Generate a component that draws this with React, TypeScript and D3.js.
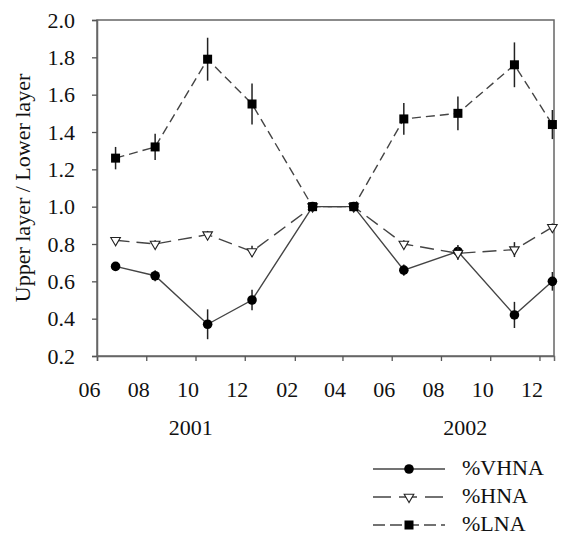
import React, { useEffect, useRef } from 'react'
import { select, scaleLinear, scaleTime, axisBottom, axisLeft, line, symbol, symbolTriangle } from 'd3'

// sampling dates
const dates = ['2001-06-24', '2001-08-12', '2001-10-16', '2001-12-10', '2002-02-23', '2002-04-15', '2002-06-16', '2002-08-22', '2002-10-31', '2002-12-17']

const vhna = [0.68, 0.63, 0.37, 0.50, 1.0, 1.0, 0.66, 0.76, 0.42, 0.60]
const vhnaErr = [0.02, 0.03, 0.08, 0.055, 0, 0, 0.03, 0.035, 0.07, 0.05]

const hna = [0.82, 0.80, 0.85, 0.76, 1.0, 1.0, 0.80, 0.75, 0.77, 0.89]
const hnaErr = [0.015, 0.02, 0.02, 0.03, 0, 0, 0.02, 0.035, 0.04, 0.02]

const lna = [1.26, 1.32, 1.79, 1.55, 1.0, 1.0, 1.47, 1.50, 1.76, 1.44]
const lnaErr = [0.06, 0.07, 0.115, 0.11, 0, 0, 0.085, 0.09, 0.12, 0.078]

const monthTicks = ['2001-06-01', '2001-08-01', '2001-10-01', '2001-12-01', '2002-02-01', '2002-04-01', '2002-06-01', '2002-08-01', '2002-10-01', '2002-12-01']
const monthLabels = ['06', '08', '10', '12', '02', '04', '06', '08', '10', '12']
const yearLabels = [{ label: '2001', date: '2001-09-25' }, { label: '2002', date: '2002-08-31' }]
const yTicks = [0.2, 0.4, 0.6, 0.8, 1.0, 1.2, 1.4, 1.6, 1.8, 2.0]

const FONT = 'Liberation Serif'

function App() {
  const ref = useRef(null)

  useEffect(() => {
    const left = 97, right = 554, top = 20, bottom = 356

    const svg = select(ref.current)
    svg.selectAll('*').remove()

    const x = scaleTime()
      .domain([new Date(2001, 5, 1), new Date(2002, 11, 19)])
      .range([left, right])
    const y = scaleLinear().domain([0.2, 2.0]).range([bottom, top])
    const parse = (s) => { const p = s.split('-').map(Number); return new Date(p[0], p[1] - 1, p[2]) }
    const xs = dates.map(parse)

    // frame
    svg.append('rect')
      .attr('x', left).attr('y', top)
      .attr('width', right - left).attr('height', bottom - top)
      .attr('fill', 'none').attr('stroke', '#666').attr('stroke-width', 1.5)

    const xAxis = svg.append('g')
      .attr('transform', `translate(0, ${bottom})`)
      .call(axisBottom(x).tickValues(monthTicks.map(parse)).tickSize(5)
        .tickFormat((d, i) => monthLabels[i]))
    const yAxis = svg.append('g')
      .attr('transform', `translate(${left}, 0)`)
      .call(axisLeft(y).tickValues(yTicks).tickSize(5).tickPadding(17).tickFormat(d => d.toFixed(1)))

    for (const ax of [xAxis, yAxis]) {
      ax.attr('font-family', FONT).attr('font-size', 22)
      ax.select('.domain').attr('stroke', '#666').attr('stroke-width', 1.5)
      ax.selectAll('.tick line').attr('stroke', '#555').attr('stroke-width', 1.3)
      ax.selectAll('.tick text').attr('fill', '#111')
    }
    // month labels sit a little left of their ticks in the original
    xAxis.selectAll('.tick text').attr('y', 41).attr('dy', null).attr('dx', -8)

    svg.selectAll('.year')
      .data(yearLabels)
      .enter().append('text')
      .attr('x', d => x(parse(d.date)))
      .attr('y', 435)
      .attr('text-anchor', 'middle')
      .attr('fill', '#111')
      .text(d => d.label)

    svg.append('text')
      .attr('transform', 'translate(30, 188) rotate(-90)')
      .attr('text-anchor', 'middle')
      .attr('fill', '#111')
      .text('Upper layer / Lower layer')

    const series = [
      { vals: vhna, err: vhnaErr, dash: null, marker: 'circle', name: '%VHNA' },
      { vals: hna, err: hnaErr, dash: '14,7', marker: 'triangle', name: '%HNA' },
      { vals: lna, err: lnaErr, dash: '9,5', marker: 'square', name: '%LNA' },
    ]

    const drawMarker = (g, kind, cx, cy) => {
      if (kind === 'circle') {
        g.append('circle').attr('cx', cx).attr('cy', cy).attr('r', 4.8).attr('fill', '#000')
      } else if (kind === 'square') {
        g.append('rect').attr('x', cx - 4.5).attr('y', cy - 4.5).attr('width', 9).attr('height', 9).attr('fill', '#000')
      } else {
        g.append('path')
          .attr('d', symbol(symbolTriangle, 40)())
          .attr('transform', `translate(${cx}, ${cy}) rotate(180)`)
          .attr('fill', '#fff').attr('stroke', '#222').attr('stroke-width', 1.1)
      }
    }

    const ln = line().x((d, i) => x(xs[i])).y(d => y(d))

    series.forEach(s => {
      svg.append('path')
        .attr('d', ln(s.vals))
        .attr('fill', 'none').attr('stroke', '#444').attr('stroke-width', 1.4)
        .attr('stroke-dasharray', s.dash)
    })

    series.forEach(s => {
      const g = svg.append('g')
      s.vals.forEach((v, i) => {
        if (s.err[i] > 0) {
          g.append('line')
            .attr('x1', x(xs[i])).attr('x2', x(xs[i]))
            .attr('y1', y(v - s.err[i])).attr('y2', y(v + s.err[i]))
            .attr('stroke', '#222').attr('stroke-width', 1.5)
        }
        drawMarker(g, s.marker, x(xs[i]), y(v))
      })
    })

    // legend
    const lg = svg.append('g')
    series.forEach((s, i) => {
      const ly = 469 + i * 28
      lg.append('line')
        .attr('x1', 373).attr('x2', 445).attr('y1', ly).attr('y2', ly)
        .attr('stroke', '#444').attr('stroke-width', 1.4)
        .attr('stroke-dasharray', s.dash ? (i === 1 ? '18,8' : '12,5') : null)
      drawMarker(lg, s.marker, 409, ly)
      lg.append('text')
        .attr('x', 462).attr('y', ly + 6)
        .attr('fill', '#111')
        .text(s.name)
    })
  }, [])

  return (
    <svg ref={ref} width={565} height={536} fontFamily={FONT} fontSize={22}
      style={{ position: 'absolute', left: 0, top: 0 }}></svg>
  )
}

export default App
